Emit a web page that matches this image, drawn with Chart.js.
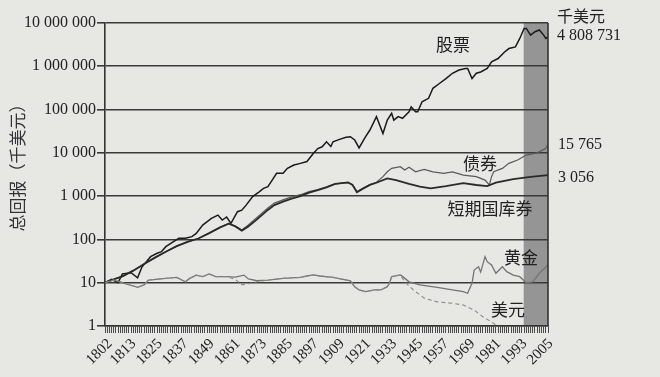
<!DOCTYPE html>
<html><head><meta charset="utf-8">
<script src="https://cdn.jsdelivr.net/npm/chart.js@4.4.1/dist/chart.umd.min.js"></script>
<style>html,body{margin:0;padding:0;background:#e7e7e4;overflow:hidden;}</style>
</head><body>
<canvas id="c" width="660" height="377"></canvas>
<script>
// ---- tick labels ----
const labelYears = [1802,1813,1825,1837,1849,1861,1873,1885,1897,1909,1921,1933,1945,1957,1969,1981,1993,2005];
const yTickValues = [1,10,100,1000,10000,100000,1000000,10000000];
const yTitle = '总回报（千美元）';

// ---- series: stocks (股票) ----
const stockYears  = [1802,1805,1808,1810,1814,1817,1819,1823,1826,1828,1830,1833,1836,1839,1842,1844,1847,1851,1854,1856,1858,1860,1863,1865,1867,1870,1873,1875,1877,1879,1881,1884,1886,1889,1892,1895,1898,1900,1902,1904,1906,1907,1910,1913,1915,1917,1919,1922,1924,1927,1930,1932,1934,1935,1937,1939,1942,1943,1945,1946,1948,1951,1953,1956,1959,1962,1965,1968,1969,1971,1973,1975,1978,1980,1983,1986,1988,1991,1993,1995,1996,1998,2000,2002,2004,2005,2006];
const stockValues = [10,12,10,16,17,13,23,40,48,52,68,85,106,106,116,138,215,306,365,280,330,235,437,475,620,975,1260,1510,1650,2350,3370,3370,4380,5220,5720,6300,9750,12600,13800,18000,14000,18000,20500,22900,23600,19800,13000,23600,33700,68600,28100,57000,81800,57000,68600,63000,89000,115000,89000,89000,151000,182000,310000,400000,520000,690000,820000,890000,890000,520000,690000,740000,890000,1270000,1510000,2140000,2570000,2800000,4400000,7500000,7500000,5250000,6300000,6900000,5250000,4400000,4808731];

// ---- series: bonds (债券) ----
const bondYears  = [1802,1806,1810,1815,1820,1825,1830,1835,1840,1845,1850,1855,1859,1862,1865,1868,1872,1877,1880,1884,1888,1892,1896,1900,1904,1908,1914,1916,1918,1921,1924,1927,1930,1932,1934,1938,1940,1942,1945,1949,1953,1958,1962,1967,1973,1977,1979,1980,1981,1985,1988,1992,1996,2001,2005,2006];
const bondValues = [10,12,14,19,27,38,52,70,88,105,140,190,235,205,165,215,320,530,690,820,960,1080,1270,1420,1640,1930,2050,1850,1280,1540,1850,2100,2820,3650,4380,4780,4000,4640,3650,4150,3650,3370,3650,3070,2820,2350,1810,2820,3650,4380,5720,6820,8900,10000,12700,15765];

// ---- series: bills (短期国库券) ----
const billYears  = [1802,1806,1810,1815,1820,1825,1830,1835,1840,1845,1850,1855,1859,1862,1865,1868,1872,1877,1880,1884,1888,1892,1896,1900,1904,1908,1914,1916,1918,1921,1924,1927,1932,1936,1942,1947,1952,1959,1967,1973,1978,1982,1990,1998,2006];
const billValues = [10,12,14,19,27,38,52,70,88,105,140,190,230,200,160,200,290,480,620,745,880,1000,1200,1380,1600,1910,2080,1800,1230,1510,1820,2040,2570,2350,1910,1650,1510,1700,1990,1810,1700,2040,2460,2800,3056];

// ---- series: gold (黄金) ----
const goldYears  = [1802,1806,1809,1812,1815,1817,1820,1822,1830,1835,1839,1841,1844,1847,1850,1853,1858,1862,1866,1868,1872,1877,1884,1892,1895,1898,1901,1907,1915,1917,1919,1922,1926,1929,1932,1933,1934,1938,1939,1942,1947,1955,1962,1967,1969,1971,1972,1974,1975,1977,1978,1980,1982,1985,1987,1990,1993,1996,1999,2002,2006];
const goldValues = [10,11.5,10.5,9.3,8.4,7.8,8.9,11.5,12.6,13.3,10.5,12.6,15,13.8,15.9,13.8,13.8,13.5,15,12.2,11.1,11.5,12.6,13.3,14.3,15.1,14.3,13.3,11.1,8.1,6.8,6.2,6.8,6.8,8.1,9.7,13.8,15.1,14,10.5,8.9,7.8,6.8,6.2,5.7,9.7,19.6,23.4,17.6,40,30.6,25.7,16.5,23.4,18,15,13.8,10,10.5,16.5,25.6];

// ---- series: dollar (美元) ----
const dollarYears  = [1802,1806,1809,1812,1815,1817,1820,1822,1830,1835,1839,1841,1844,1847,1850,1853,1858,1862,1865,1868,1872,1877,1884,1892,1895,1898,1901,1907,1915,1917,1919,1922,1926,1929,1932,1933,1934,1938,1940,1944,1949,1955,1962,1967,1972,1976,1981,1983,1990,2000,2006];
const dollarValues = [10,11.5,10.5,9.3,8.4,7.8,8.9,11.5,12.6,13.3,10.5,12.6,15,13.8,15.9,13.8,13.8,12,8.9,9.5,10.5,11.5,12.6,13.3,14.3,15.1,14.3,13.3,11.1,8.1,6.8,6.2,6.8,6.8,8.1,9.7,13.8,15.1,10.5,6.8,4.4,3.6,3.35,3.05,2.34,1.64,1.15,0.95,0.75,0.6,0.55];

const shadeStart = 1994.8;

const pts = (xs, ys) => xs.map((x, i) => ({x: x, y: ys[i]}));
const fmt = v => String(v).replace(/\B(?=(\d{3})+(?!\d))/g, ' ');

const serif = "'Liberation Serif', 'DejaVu Serif', serif";
const cjk = "'Noto Sans CJK SC', sans-serif";

const decor = {
  id: 'decor',
  beforeDraw(chart) {
    const {ctx, chartArea: a, scales: {x}} = chart;
    ctx.save();
    ctx.fillStyle = '#e7e7e4';
    ctx.fillRect(0, 0, chart.width, chart.height);
    const sx = x.getPixelForValue(shadeStart);
    ctx.fillStyle = '#959595';
    ctx.fillRect(sx, a.top, a.right - sx, a.bottom - a.top);
    ctx.restore();
  },
  afterDatasetsDraw(chart) {
    const {ctx, chartArea: a, scales: {x, y}} = chart;
    ctx.save();
    ctx.strokeStyle = '#333';
    ctx.lineWidth = 1.6;
    ctx.beginPath();
    ctx.moveTo(a.right, a.top); ctx.lineTo(a.right, a.bottom);
    ctx.stroke();
    ctx.fillStyle = '#222';
    ctx.textAlign = 'center';
    ctx.textBaseline = 'middle';
    // y-axis title
    ctx.save();
    ctx.translate(18, (a.top + a.bottom) / 2 - 11);
    ctx.rotate(-Math.PI / 2);
    ctx.fillStyle = '#333';
    ctx.font = "17px " + cjk;
    ctx.fillText(yTitle, 0, 0);
    ctx.restore();
    // in-plot series labels
    ctx.font = "17px " + cjk;
    const inLabels = [['股票', 1962.3, 3.1e6], ['债券', 1974.7, 5800], ['短期国库券', 1979.3, 530], ['黄金', 1993.6, 39], ['美元', 1987.6, 2.34]];
    inLabels.forEach(([t, xv, yv]) => ctx.fillText(t, x.getPixelForValue(xv), y.getPixelForValue(yv)));
    // end-value labels
    ctx.textAlign = 'left';
    const rx = a.right + 9;
    const sy = y.getPixelForValue(stockValues[stockValues.length - 1]);
    ctx.font = "16px " + cjk;
    ctx.fillText('千美元', rx, sy - 21);
    ctx.font = "16px " + serif;
    ctx.fillText(fmt(stockValues[stockValues.length - 1]), rx, sy - 1);
    ctx.fillText(fmt(bondValues[bondValues.length - 1]), rx + 1, y.getPixelForValue(bondValues[bondValues.length - 1]));
    ctx.fillText(fmt(billValues[billValues.length - 1]), rx + 1, y.getPixelForValue(billValues[billValues.length - 1]) + 3);
    ctx.restore();
  }
};

new Chart(document.getElementById('c'), {
  type: 'line',
  data: {
    datasets: [
      {label: '美元', data: pts(dollarYears, dollarValues), borderColor: '#8a8a8a', borderWidth: 1.1, borderDash: [4, 3]},
      {label: '黄金', data: pts(goldYears, goldValues), borderColor: '#747474', borderWidth: 1.3},
      {label: '短期国库券', data: pts(billYears, billValues), borderColor: '#2a2a2a', borderWidth: 1.8},
      {label: '债券', data: pts(bondYears, bondValues), borderColor: '#5a5a5a', borderWidth: 1.2},
      {label: '股票', data: pts(stockYears, stockValues), borderColor: '#1a1a1a', borderWidth: 1.5}
    ]
  },
  options: {
    responsive: false,
    animation: false,
    devicePixelRatio: 1,
    layout: {padding: {left: 0, right: 112, top: 23, bottom: 0}},
    elements: {point: {radius: 0}, line: {tension: 0}},
    plugins: {legend: {display: false}, tooltip: {enabled: false}},
    scales: {
      x: {
        type: 'linear', min: 1802, max: 2006,
        afterBuildTicks: s => { const t = []; for (let v = 1802; v <= 2006; v++) t.push({value: v}); s.ticks = t; },
        afterFit: s => { s.height = 51; },
        ticks: {autoSkip: false, minRotation: 45, maxRotation: 45, padding: 2, labelOffset: 5, color: '#222',
          font: {family: serif, size: 15},
          callback: v => labelYears.includes(v) ? String(v) : ''},
        grid: {drawOnChartArea: false, drawTicks: true, tickLength: 7, color: '#4a4a4a', lineWidth: 1},
        border: {display: true, color: '#333', width: 1.6}
      },
      y: {
        type: 'logarithmic', min: 1, max: 10000000,
        afterBuildTicks: s => { s.ticks = yTickValues.map(v => ({value: v})); },
        afterFit: s => { s.width = 105; },
        ticks: {color: '#222', padding: 1, font: {family: serif, size: 16}, callback: v => fmt(v)},
        grid: {color: '#3a3a3a', lineWidth: 1.6, tickLength: 8, drawTicks: true},
        border: {display: true, color: '#333', width: 1.6}
      }
    }
  },
  plugins: [decor]
});
</script>
</body></html>
